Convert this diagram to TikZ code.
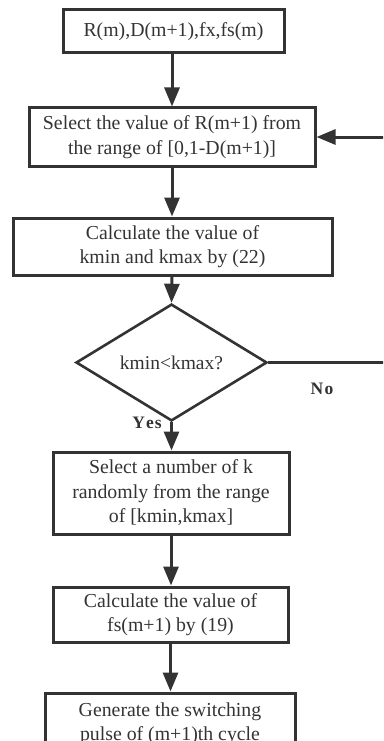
\documentclass[tikz,border=0pt]{standalone}
\usepackage{fontspec}
\setmainfont{Liberation Serif}
\usetikzlibrary{shapes.geometric,arrows.meta}
\definecolor{ink}{HTML}{333333}
\tikzset{
  box/.style={draw=ink, line width=3pt, rectangle, align=center, inner sep=0pt,
    text=ink, font=\fontsize{19.8}{24.5}\selectfont},
  cond/.style={draw=ink, line width=2.6pt, diamond, inner sep=0pt, text=ink,
    font=\fontsize{19.5}{24.5}\selectfont},
  flow/.style={draw=ink, line width=3pt, -{Triangle[width=15pt,length=19pt]}},
  link/.style={draw=ink, line width=2.8pt},
  tag/.style={text=ink, font=\bfseries\fontsize{17.5}{20}\selectfont}
}
\begin{document}
\begin{tikzpicture}[x=1pt,y=-1pt]
\useasboundingbox (0,0) rectangle (383,741);
\clip (0,0) rectangle (383,741);

\node[box, minimum width=221pt, minimum height=43pt] (inp) at (173.5,31.5) {R(m),D(m+1),fx,fs(m)};
\node[box, minimum width=286pt, minimum height=58pt] (sel) at (172,137)
  {Select the value of R(m+1) from\\the range of [0,1-D(m+1)]};
\node[box, minimum width=319pt, minimum height=57pt] (calc) at (172.5,246.5)
  {Calculate the value of\\kmin and kmax by (22)};
\node[cond, minimum width=191pt, minimum height=73pt] (cmp) at (171.5,362.5) {kmin<kmax?};
\node[box, minimum width=236pt, minimum height=82pt] (pick) at (171,493)
  {Select a number of k\\randomly from the range\\of [kmin,kmax]};
\node[box, minimum width=235pt, minimum height=55pt] (fs) at (170.5,614.5)
  {Calculate the value of\\fs(m+1) by (19)};
\node[box, minimum width=250pt, minimum height=62pt] (gen) at (170,724)
  {Generate the switching\\pulse of (m+1)th cycle};

\coordinate (loopR) at (395,0);

\draw[flow] (inp.south -| 172,0) -- (sel.north -| 172,0);
\draw[flow] (sel.south -| 172,0) -- (calc.north -| 172,0);
\draw[flow] (calc.south -| 172,0) -- (cmp.north);
\draw[flow] (cmp.south) -- (pick.north -| cmp.south);
\draw[flow] (pick.south) -- (fs.north -| pick.south);
\draw[flow] (fs.south) -- (gen.north -| fs.south);
\draw[link] (cmp.east) -- (cmp.east -| loopR) -- (sel.east -| loopR);
\draw[flow] (sel.east -| loopR) -- (sel.east);

\node[tag, anchor=center] (no) at (322,389) {N\kern1.5pt o};
\node[tag, anchor=center] (yes) at (147,423) {Y\kern1pt e\kern1pt s};
\end{tikzpicture}
\end{document}
